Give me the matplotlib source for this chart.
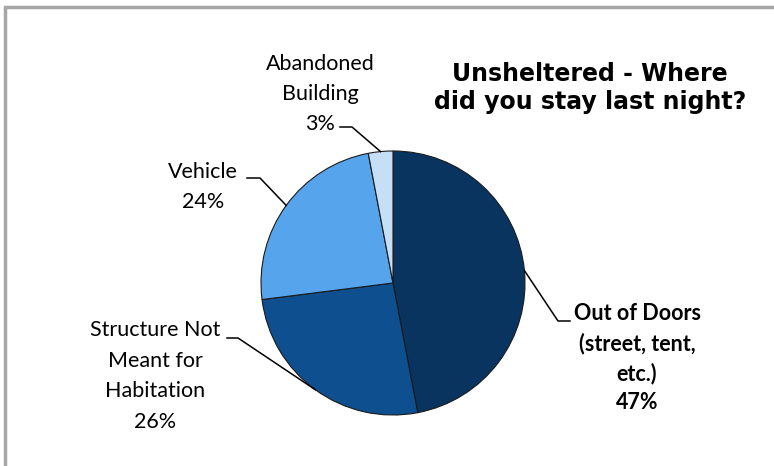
import numpy as np
import matplotlib.pyplot as plt
from matplotlib.patches import Rectangle

# where did unsheltered people stay last night
labels = ['Out of Doors\n(street, tent,\netc.)', 'Structure Not\nMeant for\nHabitation', 'Vehicle', 'Abandoned\nBuilding']
shares = [47, 26, 24, 3]
colors = ['#08345F', '#0D4F8F', '#56A5EC', '#C6DFF7']

W, H = 774, 466
fig = plt.figure(figsize=(W / 100, H / 100), dpi=100)

# grey frame, only top and left edges fall inside the image
fig.patches.append(Rectangle((4.5 / W, -0.1), 1.2, (H - 6.5) / H + 0.1, transform=fig.transFigure,
                             fill=False, edgecolor='#A6A6A6', linewidth=2.5))

cx, cy, r = 393, 283, 132
ax = fig.add_axes([(cx - r) / W, (H - cy - r) / H, 2 * r / W, 2 * r / H])
wedges, _ = ax.pie(shares, colors=colors, startangle=90, counterclock=False, radius=1,
                   wedgeprops=dict(edgecolor='#1a1a1a', linewidth=0.8))
ax.set_xlim(-1, 1)
ax.set_ylim(-1, 1)
ax.axis('off')


def px(x, y):
    return (x - cx) / r, (cy - y) / r


font = 'Lato'
# label position (centre of text block), leader elbow, leader end, bold, line spacing
label_pos = [(637, 358, (558, 321), (570, 321), True, 1.48),
             (155, 376, (238, 338), (227, 338), False, 1.65),
             (203, 187, (260, 178), (247, 178), False, 1.65),
             (320, 94, (352, 127), (340, 127), False, 1.65)]

for w, lab, val, (tx, ty, elbow, tail, bold, ls) in zip(wedges, labels, shares, label_pos):
    mid = np.deg2rad((w.theta1 + w.theta2) / 2)
    edge = (np.cos(mid), np.sin(mid))
    ex, ey = px(*elbow)
    sx, sy = px(*tail)
    ax.plot([edge[0], ex, sx], [edge[1], ey, sy], color='black', lw=1.1, clip_on=False)
    x, y = px(tx, ty)
    ax.text(x, y, f'{lab}\n{val}%', ha='center', va='center', fontsize=15.5, family=font,
            fontweight='bold' if bold else 'normal', linespacing=ls, clip_on=False)

fig.text(590 / W, 1 - 88 / H, 'Unsheltered - Where\ndid you stay last night?', ha='center', va='center',
         fontsize=17, family='DejaVu Sans', fontweight='bold', linespacing=1.22)

fig.savefig('out.png', dpi=100)
